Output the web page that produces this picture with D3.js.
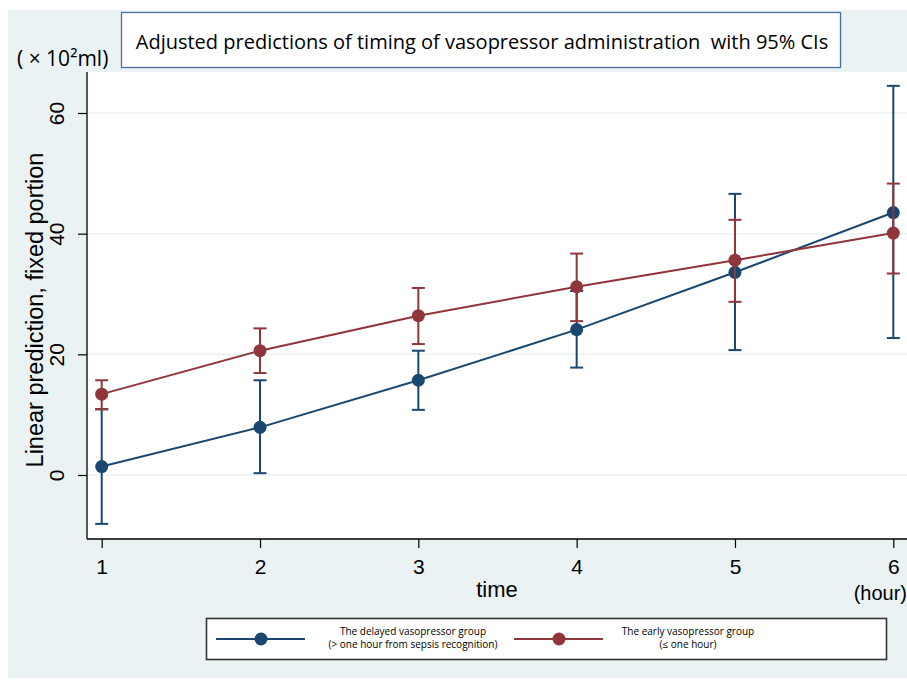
<!DOCTYPE html>
<html>
<head>
<meta charset="utf-8">
<script src="https://cdn.jsdelivr.net/npm/d3@7"></script>
<style>
  body { margin: 0; background: #fff; }
  svg { display: block; }
</style>
</head>
<body>
<script>
// values
const times = [1, 2, 3, 4, 5, 6]
const delayed = [1.4, 7.9, 15.7, 24.1, 33.6, 43.5]
const delayedLo = [-8.1, 0.3, 10.8, 17.8, 20.7, 22.7]
const delayedHi = [10.9, 15.7, 20.6, 30.5, 46.6, 64.5]
const early = [13.4, 20.6, 26.4, 31.2, 35.6, 40.1]
const earlyLo = [10.9, 16.9, 21.7, 25.5, 28.7, 33.4]
const earlyHi = [15.7, 24.3, 31.0, 36.7, 42.3, 48.3]
const yTicks = [0, 20, 40, 60]
const xTicks = [1, 2, 3, 4, 5, 6]

const width = 907
const height = 687
const bg = "#eaf2f3"
const blue = "#1a476f"
const red = "#90353b"
const font = "'Liberation Sans', Arial, sans-serif"
const font2 = "'Open Sans', 'Noto Sans', sans-serif"

const plot = { left: 87, right: 907, top: 72, bottom: 539 }

const x = d3.scaleLinear().domain([1, 6]).range([101.7, 893.3])
const y = d3.scaleLinear().domain([0, 60]).range([475, 113])

const svg = d3.select("body").append("svg")
    .attr("width", width)
    .attr("height", height)

// outer graph region
svg.append("rect")
    .attr("x", 8).attr("y", 10)
    .attr("width", width - 8).attr("height", 668)
    .attr("fill", bg)

// plot region
svg.append("rect")
    .attr("x", plot.left).attr("y", plot.top)
    .attr("width", plot.right - plot.left).attr("height", plot.bottom - plot.top)
    .attr("fill", "#fff")

// grid
svg.append("g").selectAll("line")
    .data(yTicks)
    .enter().append("line")
    .attr("x1", plot.left).attr("x2", plot.right)
    .attr("y1", d => y(d)).attr("y2", d => y(d))
    .style("stroke", bg)
    .style("stroke-width", 1.5)

// y axis
const yAxis = svg.append("g")
    .attr("transform", `translate(${plot.left},0)`)
    .call(d3.axisLeft(y).tickValues(yTicks).tickSize(9).tickSizeOuter(0))
yAxis.select(".domain").remove()
yAxis.selectAll(".tick line").style("stroke", "#000").style("stroke-width", 1.2)
yAxis.selectAll(".tick text")
    .style("font-family", font).style("font-size", "21px").style("fill", "#000")
    .attr("text-anchor", "middle")
    .attr("x", -30).attr("dy", "0.35em")
    .attr("transform", "rotate(-90, -30, 0)")
svg.append("line")
    .attr("x1", plot.left).attr("x2", plot.left)
    .attr("y1", plot.top).attr("y2", plot.bottom)
    .style("stroke", "#000").style("stroke-width", 1.3)

// x axis
const xAxis = svg.append("g")
    .attr("transform", `translate(0,${plot.bottom})`)
    .call(d3.axisBottom(x).tickValues(xTicks).tickSize(9).tickSizeOuter(0).tickPadding(11).tickFormat(d3.format("d")))
xAxis.select(".domain").remove()
xAxis.selectAll(".tick line").style("stroke", "#000").style("stroke-width", 1.2)
xAxis.selectAll(".tick text")
    .style("font-family", font).style("font-size", "21px").style("fill", "#000")
svg.append("line")
    .attr("x1", plot.left).attr("x2", plot.right)
    .attr("y1", plot.bottom).attr("y2", plot.bottom)
    .style("stroke", "#000").style("stroke-width", 1.3)

// axis titles
svg.append("text")
    .attr("transform", "translate(43,310) rotate(-90)")
    .attr("text-anchor", "middle")
    .style("font-family", font).style("font-size", "23.5px")
    .text("Linear prediction, fixed portion")

svg.append("text")
    .attr("x", 497).attr("y", 597)
    .attr("text-anchor", "middle")
    .style("font-family", font).style("font-size", "22px")
    .text("time")

svg.append("text")
    .attr("x", 907).attr("y", 600)
    .attr("text-anchor", "end")
    .style("font-family", font).style("font-size", "20px")
    .text("(hour)")

svg.append("text")
    .attr("x", 17).attr("y", 66)
    .style("font-family", font2).style("font-size", "21px")
    .text("( × 10²ml)")

// title box
svg.append("rect")
    .attr("x", 121.5).attr("y", 12.5)
    .attr("width", 719).attr("height", 55)
    .attr("fill", "#fff")
    .style("stroke", "#4b6ea3").style("stroke-width", 1.3)
svg.append("text")
    .attr("x", 482).attr("y", 49)
    .attr("text-anchor", "middle")
    .style("font-family", font2).style("font-size", "20px")
    .style("white-space", "pre")
    .text("Adjusted predictions of timing of vasopressor administration  with 95% CIs")

// series
const series = [
    { name: "delayed", color: blue, mid: delayed, lo: delayedLo, hi: delayedHi },
    { name: "early", color: red, mid: early, lo: earlyLo, hi: earlyHi }
]

const line = d3.line()
    .x(d => x(d.t))
    .y(d => y(d.v))

series.forEach(s => {
    const pts = times.map((t, i) => ({ t: t, v: s.mid[i], lo: s.lo[i], hi: s.hi[i] }))
    const g = svg.append("g").attr("class", s.name)

    g.selectAll("line.ci")
        .data(pts)
        .enter().append("line")
        .attr("class", "ci")
        .attr("x1", d => x(d.t)).attr("x2", d => x(d.t))
        .attr("y1", d => y(d.lo)).attr("y2", d => y(d.hi))
        .style("stroke", s.color).style("stroke-width", 2)

    g.selectAll("line.caplo")
        .data(pts)
        .enter().append("line")
        .attr("x1", d => x(d.t) - 6.5).attr("x2", d => x(d.t) + 6.5)
        .attr("y1", d => y(d.lo)).attr("y2", d => y(d.lo))
        .style("stroke", s.color).style("stroke-width", 2)

    g.selectAll("line.caphi")
        .data(pts)
        .enter().append("line")
        .attr("x1", d => x(d.t) - 6.5).attr("x2", d => x(d.t) + 6.5)
        .attr("y1", d => y(d.hi)).attr("y2", d => y(d.hi))
        .style("stroke", s.color).style("stroke-width", 2)

    g.append("path")
        .datum(pts)
        .attr("d", line)
        .attr("fill", "none")
        .style("stroke", s.color).style("stroke-width", 2)

    g.selectAll("circle")
        .data(pts)
        .enter().append("circle")
        .attr("cx", d => x(d.t)).attr("cy", d => y(d.v))
        .attr("r", 6.5)
        .attr("fill", s.color)
})

// legend
const legend = svg.append("g")
legend.append("rect")
    .attr("x", 206.5).attr("y", 618.5)
    .attr("width", 680).attr("height", 41)
    .attr("fill", "#fff")
    .style("stroke", "#333").style("stroke-width", 1.6)

const legendItems = [
    { color: blue, x0: 216, text: ["The delayed vasopressor group", "(> one hour from sepsis recognition)"], tx: 413 },
    { color: red, x0: 514, text: ["The early vasopressor group", "(≤ one hour)"], tx: 688 }
]
legendItems.forEach(it => {
    legend.append("line")
        .attr("x1", it.x0).attr("x2", it.x0 + 89)
        .attr("y1", 639).attr("y2", 639)
        .style("stroke", it.color).style("stroke-width", 2)
    legend.append("circle")
        .attr("cx", it.x0 + 45).attr("cy", 639).attr("r", 6.5)
        .attr("fill", it.color)
    legend.selectAll(null)
        .data(it.text)
        .enter().append("text")
        .attr("x", it.tx).attr("y", (d, i) => 635 + i * 13)
        .attr("text-anchor", "middle")
        .style("font-family", font2).style("font-size", "10px")
        .text(d => d)
})
</script>
</body>
</html>
